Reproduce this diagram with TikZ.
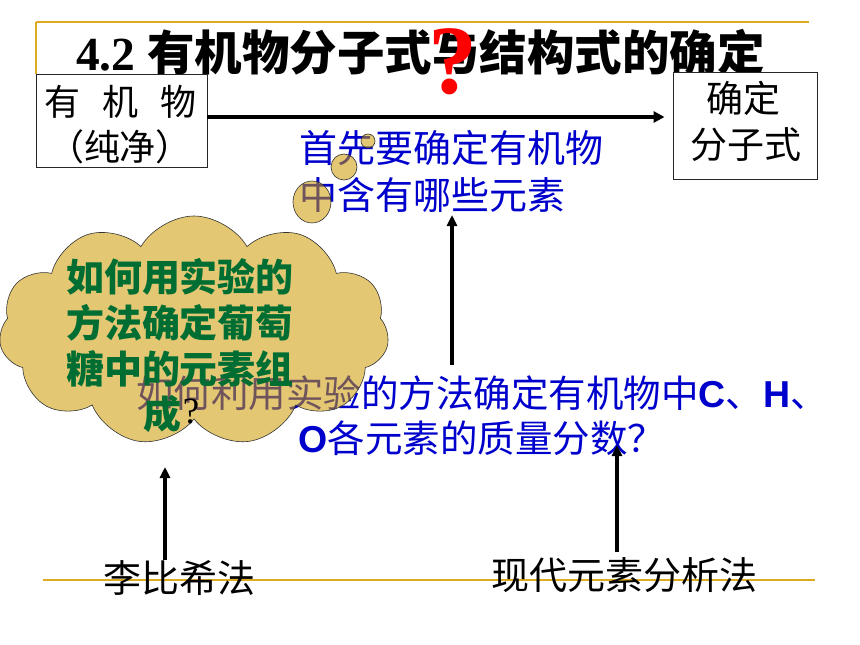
\documentclass[tikz,border=0pt]{standalone}
\usepackage{fontspec}
\setmainfont{Liberation Serif}
\newfontfamily\cjk{Noto Sans CJK SC}
\newfontfamily\arialf{Liberation Sans}
\usetikzlibrary{shapes.symbols,shapes.geometric,arrows.meta}
\definecolor{goldline}{RGB}{221,170,34}
\definecolor{cloudfill}{RGB}{204,153,0}
\definecolor{bluetxt}{RGB}{0,0,204}
\definecolor{greentxt}{RGB}{0,110,50}
\definecolor{redq}{RGB}{255,0,0}
\newcommand{\fsz}[1]{\fontsize{#1}{#1}\selectfont}
\begin{document}
\begin{tikzpicture}[x=1pt,y=-1pt,
  txt/.style={inner sep=0pt, outer sep=0pt},
  box/.style={draw=black!85, line width=0.9pt, inner sep=0pt},
  harr/.style={-{Triangle[length=11pt,width=11pt]}, line width=3.2pt},
  varr/.style={-{Triangle[length=11pt,width=10pt]}, line width=3.2pt},
  bubble/.style={fill=cloudfill, fill opacity=0.55, draw=black!80, draw opacity=1, line width=0.6pt, inner sep=0pt},
  blk/.style={txt, font=\cjk\fsz{36}},
  blu/.style={txt, text=bluetxt, font=\cjk\fsz{38}},
  grn/.style={txt, text=greentxt, font=\cjk\bfseries\fsz{38}},
  gline/.style={draw=goldline}
 ]
\useasboundingbox[fill=white] (0,0) rectangle (860,645);

% top decoration
\draw[gline, line width=1.6pt] (36,22) -- (809,22);
\draw[gline, line width=1.6pt] (36,22) -- (36,74);

% title
\node[txt, anchor=base west, font=\bfseries\fsz{47.5}] (title) at (76,70) {4.2 {\cjk 有机物分子式与结构式的确定}};

% boxes
\node[box, fill=white, minimum width=171pt, minimum height=93pt] (b1) at (121.5,120.5) {};
\node[box, fill=white, minimum width=144pt, minimum height=107pt] (b2) at (745,125.5) {};
\node[blk] (b1t1) at (121,102) {有\hspace{22pt}机\hspace{22pt}物};
\node[blk] (b1t2) at (120,147) {（纯净）};
\node[blk, font=\cjk\fsz{37}] (b2t1) at (743,98) {确定};
\node[blk, font=\cjk\fsz{37}] (b2t2) at (746,145) {分子式};
\draw[harr, shorten >=8pt] ([yshift=3.5pt]b1.east) -- ([yshift=8.5pt]b2.west);

% blue texts
\node[blu, anchor=west] (p1) at (299,148) {首先要确定有机物};
\node[blu, anchor=west] (p2) at (299,195) {中含有哪些元素};
\node[blu, font=\cjk\fsz{37.5}] (q1) at (482,393) {如何利用实验的方法确定有机物中{\arialf\bfseries C}、{\arialf\bfseries H}、};
\node[blu, font=\cjk\fsz{37.5}] (q2) at (482,438) {{\arialf\bfseries O}各元素的质量分数？};

% cloud and thought bubbles
\node[cloud, cloud puffs=11, cloud puff arc=120, cloud ignores aspect,
      minimum width=390pt, minimum height=230pt, bubble] (cl) at (194,331) {};
\node[bubble, circle, minimum size=14pt] (bb1) at (368,141) {};
\node[bubble, circle, minimum size=26pt] (bb2) at (344,167) {};
\node[bubble, ellipse, minimum width=38pt, minimum height=42pt] (bb3) at (312,202) {};

% green text
\node[grn] (g1) at (180,277) {如何用实验的};
\node[grn] (g2) at (180,323) {方法确定葡萄};
\node[grn] (g3) at (180,369) {糖中的元素组};
\node[grn] (g4) at (162,414) {成};
\node[txt, font=\fsz{37}] (g5) at (191,412) {?};

% red question mark
\node[txt, text=redq, font=\bfseries\fsz{98}] (rq) at (453,62) {?};

% bottom
\draw[gline, line width=2.6pt] (43,580) -- (815,580);
\node[blk, font=\cjk\fsz{38}] (lb) at (179,578) {李比希法};
\node[blk, font=\cjk\fsz{38}] (xd) at (624,575) {现代元素分析法};

% vertical arrows
\coordinate (a1s) at (452,365);
\coordinate (a1t) at (452,215);
\coordinate (a2s) at (165,560);
\coordinate (a2t) at (165,467);
\coordinate (a3s) at (617,552);
\coordinate (a3t) at (617,445);
\draw[varr] (a1s) -- (a1t);
\draw[varr] (a2s) -- (a2t);
\draw[varr] (a3s) -- (a3t);
\end{tikzpicture}
\end{document}
